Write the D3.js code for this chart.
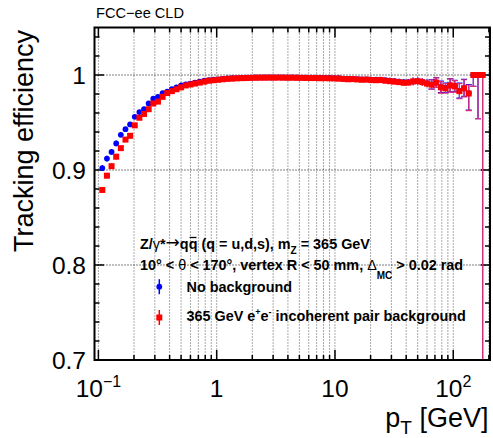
<!DOCTYPE html>
<html><head><meta charset="utf-8">
<script src="https://cdn.jsdelivr.net/npm/d3@7"></script>
<style>
body{margin:0;background:#fff}
svg{display:block}
text{font-family:"Liberation Sans",Arial,Helvetica,sans-serif;fill:#000}
</style>
</head><body><svg id="c" width="493" height="438"></svg>
<script>
// ---------------- data ----------------
const pT = [
0.1079,0.1181,0.1292,0.1414,0.1548,0.1694,0.1854,0.2030,0.2221,0.2431,
0.2661,0.2912,0.3188,0.3489,0.3819,0.4179,0.4575,0.5007,0.5480,0.5998,
0.6565,0.7186,0.7865,0.8608,0.9419,1.031,1.128,1.235,1.352,1.479,
1.619,1.772,1.940,2.123,2.324,2.543,2.783,3.046,3.334,3.649,
3.994,4.372,4.784,5.236,5.731,6.272,6.865,7.513,8.222,9.000,
9.849,10.78,11.80,12.91,14.13,15.47,16.93,18.53,20.28,22.20,
24.29,26.59,29.10,31.85,34.86,38.15,41.76,45.71,50.02,54.75,
59.92,65.58,71.78,78.56,85.99,94.10,103.0,112.7,123.4,135.1,
147.8,161.8,177.1];

const effNoBkg = [
0.902,0.912,0.919,0.928,0.937,0.943,0.948,0.956,0.961,0.964,
0.970,0.975,0.977,0.981,0.9825,0.985,0.987,0.989,0.990,0.991,
0.992,0.993,0.994,0.9945,0.995,0.9955,0.996,0.9963,0.9966,0.9968,
0.9970,0.9971,0.9973,0.9974,0.9974,0.9975,0.9975,0.9975,0.9976,0.9975,
0.9975,0.9974,0.9974,0.9973,0.9973,0.9972,0.9971,0.9970,0.9970,0.9969,
0.9968,0.9966,0.9962,0.9960,0.9960,0.9957,0.9955,0.9955,0.9951,0.9950,
0.9950,0.9945,0.9940,0.9935,0.9930,0.9924,0.9925,0.9933,0.9936,0.9928,
0.9914,0.9902,0.9921,0.9875,0.9866,0.9892,0.9884,0.9836,0.9864,0.9810,
1.0,1.0,1.0];

const errNoBkgLow = [
0.003,0.003,0.003,0.003,0.002,0.002,0.002,0.002,0.002,0.002,
0.002,0.002,0.002,0.001,0.001,0.001,0.001,0.001,0.001,0.001,
0.001,0.001,0.001,0.001,0.001,0.001,0.001,0.001,0.001,0.001,
0.001,0.001,0.001,0.001,0.001,0.001,0.001,0.001,0.001,0.001,
0.001,0.001,0.001,0.001,0.001,0.001,0.001,0.001,0.001,0.001,
0.001,0.001,0.001,0.001,0.002,0.002,0.002,0.002,0.002,0.002,
0.002,0.002,0.003,0.003,0.003,0.003,0.003,0.004,0.004,0.004,
0.004,0.005,0.005,0.006,0.005,0.007,0.006,0.008,0.009,0.018,
0.012,0.046,0.30];
const errNoBkgHigh = [
0.003,0.003,0.003,0.003,0.002,0.002,0.002,0.002,0.002,0.002,
0.002,0.002,0.002,0.001,0.001,0.001,0.001,0.001,0.001,0.001,
0.001,0.001,0.001,0.001,0.001,0.001,0.001,0.001,0.001,0.001,
0.001,0.001,0.001,0.001,0.001,0.001,0.001,0.001,0.001,0.001,
0.001,0.001,0.001,0.001,0.001,0.001,0.001,0.001,0.001,0.001,
0.001,0.001,0.001,0.001,0.002,0.002,0.002,0.002,0.002,0.002,
0.002,0.002,0.003,0.003,0.003,0.003,0.003,0.004,0.004,0.004,
0.004,0.005,0.005,0.006,0.005,0.007,0.006,0.008,0.009,0.009,
0,0,0];

const effBkg = [
0.879,0.894,0.904,0.914,0.923,0.932,0.936,0.947,0.955,0.959,
0.964,0.970,0.972,0.977,0.981,0.983,0.985,0.987,0.989,0.990,
0.991,0.992,0.993,0.994,0.9945,0.995,0.9955,0.996,0.9962,0.9965,
0.9967,0.9968,0.9970,0.9971,0.9972,0.9972,0.9973,0.9972,0.9973,0.9972,
0.9971,0.9972,0.9970,0.9970,0.9969,0.9968,0.9968,0.9966,0.9967,0.9965,
0.9964,0.9962,0.9958,0.9955,0.9957,0.9953,0.9950,0.9952,0.9947,0.9945,
0.9948,0.9940,0.9935,0.9930,0.9925,0.9918,0.9920,0.9932,0.9935,0.9925,
0.9910,0.9898,0.9920,0.9870,0.9860,0.9890,0.9880,0.9830,0.9860,0.9805,
1.0,1.0,1.0];

const errBkgLow = [
0.003,0.003,0.003,0.003,0.002,0.002,0.002,0.002,0.002,0.002,
0.002,0.002,0.002,0.001,0.001,0.001,0.001,0.001,0.001,0.001,
0.001,0.001,0.001,0.001,0.001,0.001,0.001,0.001,0.001,0.001,
0.001,0.001,0.001,0.001,0.001,0.001,0.001,0.001,0.001,0.001,
0.001,0.001,0.001,0.001,0.001,0.001,0.001,0.001,0.001,0.001,
0.001,0.001,0.001,0.001,0.002,0.002,0.002,0.002,0.002,0.002,
0.002,0.002,0.003,0.003,0.003,0.003,0.003,0.004,0.004,0.004,
0.004,0.005,0.005,0.006,0.005,0.007,0.006,0.008,0.009,0.018,
0.012,0.046,0.30];
const errBkgHigh = [
0.003,0.003,0.003,0.003,0.002,0.002,0.002,0.002,0.002,0.002,
0.002,0.002,0.002,0.001,0.001,0.001,0.001,0.001,0.001,0.001,
0.001,0.001,0.001,0.001,0.001,0.001,0.001,0.001,0.001,0.001,
0.001,0.001,0.001,0.001,0.001,0.001,0.001,0.001,0.001,0.001,
0.001,0.001,0.001,0.001,0.001,0.001,0.001,0.001,0.001,0.001,
0.001,0.001,0.001,0.001,0.002,0.002,0.002,0.002,0.002,0.002,
0.002,0.002,0.003,0.003,0.003,0.003,0.003,0.004,0.004,0.004,
0.004,0.005,0.005,0.006,0.005,0.007,0.006,0.008,0.009,0.009,
0,0,0];

const xMajorTicks = [0.1, 1, 10, 100];
const xTickLabels = [["10","\u22121"],["1",""],["10",""],["10","2"]];
const yMajorTicks = [0.7, 0.8, 0.9, 1.0];
const yTickLabels = ["0.7","0.8","0.9","1"];
const yMinorStep = 0.02;
const seriesNames = ["No background", "365 GeV e+e- incoherent pair background"];

// ---------------- layout ----------------
const svg = d3.select("#c");
const L = 94.5, R = 490, T = 27.5, B = 360;
const x = d3.scaleLog().domain([0.0927, 204.4]).range([L, R]);
const y = d3.scaleLinear().domain([0.7, 1.05]).range([B, T]);

svg.append("defs").append("clipPath").attr("id","clip")
  .append("rect").attr("x",L).attr("y",T).attr("width",R-L).attr("height",B-T);

// minor x ticks
const xMinor = [];
for (let d=-2; d<=2; d++) for (let k=2;k<=9;k++){ const v=k*Math.pow(10,d); if (v>x.domain()[0] && v<x.domain()[1]) xMinor.push(v); }
const xAll = xMajorTicks.concat(xMinor);

// grid
const grid = svg.append("g");
grid.selectAll("line.gx").data(xAll).join("line")
  .attr("x1",d=>x(d)).attr("x2",d=>x(d)).attr("y1",T).attr("y2",B)
  .attr("stroke","#555").attr("stroke-width",1).attr("stroke-dasharray","1,2");
grid.selectAll("line.gy").data(yMajorTicks.filter(v=>v>0.7)).join("line")
  .attr("x1",L).attr("x2",R).attr("y1",d=>y(d)).attr("y2",d=>y(d))
  .attr("stroke","#000").attr("stroke-width",1).attr("stroke-dasharray","1,2");

// ticks
const tk = svg.append("g").attr("stroke","#000").attr("stroke-width",1.5);
const yMinor = d3.range(0.72, 1.05, yMinorStep).filter(v=>!yMajorTicks.some(m=>Math.abs(m-v)<1e-6));
yMajorTicks.forEach(v=>{
  tk.append("line").attr("x1",L).attr("x2",L+9.5).attr("y1",y(v)).attr("y2",y(v));
  tk.append("line").attr("x1",R).attr("x2",R-9.5).attr("y1",y(v)).attr("y2",y(v));
});
yMinor.forEach(v=>{
  tk.append("line").attr("x1",L).attr("x2",L+5).attr("y1",y(v)).attr("y2",y(v));
  tk.append("line").attr("x1",R).attr("x2",R-5).attr("y1",y(v)).attr("y2",y(v));
});
xMajorTicks.forEach(v=>{
  tk.append("line").attr("x1",x(v)).attr("x2",x(v)).attr("y1",B).attr("y2",B-10);
  tk.append("line").attr("x1",x(v)).attr("x2",x(v)).attr("y1",T).attr("y2",T+10);
});
xMinor.forEach(v=>{
  tk.append("line").attr("x1",x(v)).attr("x2",x(v)).attr("y1",B).attr("y2",B-5);
  tk.append("line").attr("x1",x(v)).attr("x2",x(v)).attr("y1",T).attr("y2",T+5);
});

// data
const plot = svg.append("g").attr("clip-path","url(#clip)");
function series(vals, lo, hi, errColor, fill, shape){
  const g = plot.append("g");
  const idx = d3.range(pT.length);
  g.selectAll("line.e").data(idx).join("line")
    .attr("x1",i=>x(pT[i])).attr("x2",i=>x(pT[i]))
    .attr("y1",i=>y(vals[i]-lo[i])).attr("y2",i=>y(vals[i]+hi[i]))
    .attr("stroke",errColor).attr("stroke-width",1.2);
  g.selectAll("line.c1").data(idx.filter(i=>lo[i]>0.004)).join("line")
    .attr("x1",i=>x(pT[i])-3).attr("x2",i=>x(pT[i])+3)
    .attr("y1",i=>y(vals[i]-lo[i])).attr("y2",i=>y(vals[i]-lo[i]))
    .attr("stroke",errColor).attr("stroke-width",1.2);
  g.selectAll("line.c2").data(idx.filter(i=>hi[i]>0.004)).join("line")
    .attr("x1",i=>x(pT[i])-3).attr("x2",i=>x(pT[i])+3)
    .attr("y1",i=>y(vals[i]+hi[i])).attr("y2",i=>y(vals[i]+hi[i]))
    .attr("stroke",errColor).attr("stroke-width",1.2);
  if (shape==="circle"){
    g.selectAll("circle").data(idx).join("circle")
      .attr("cx",i=>x(pT[i])).attr("cy",i=>y(vals[i])).attr("r",2.9).attr("fill",fill);
  } else {
    g.selectAll("rect").data(idx).join("rect")
      .attr("x",i=>x(pT[i])-3).attr("y",i=>y(vals[i])-3).attr("width",6).attr("height",6).attr("fill",fill);
  }
}
series(effNoBkg, errNoBkgLow, errNoBkgHigh, "#0000ff", "#0000ff", "circle");
series(effBkg, errBkgLow, errBkgHigh, "#d8307a", "#ff0000", "square");

// frame
svg.append("rect").attr("x",L).attr("y",T).attr("width",R-L).attr("height",B-T)
  .attr("fill","none").attr("stroke","#000").attr("stroke-width",2);

// tick labels
yMajorTicks.forEach((v,i)=>{
  svg.append("text").attr("x",86).attr("y",y(v)).attr("dy","0.36em")
    .attr("text-anchor","end").attr("font-size",24.5).text(yTickLabels[i]);
});
xMajorTicks.forEach((v,i)=>{
  const t = svg.append("text").attr("x",x(v)).attr("y",397).attr("text-anchor","middle").attr("font-size",24.5);
  t.append("tspan").text(xTickLabels[i][0]);
  if (xTickLabels[i][1]) t.append("tspan").attr("dy",-10).attr("font-size",16).text(xTickLabels[i][1]);
});

// axis titles
svg.append("text").attr("transform","translate(33,30) rotate(-90)")
  .attr("text-anchor","end").attr("font-size",27).text("Tracking efficiency");
const xt = svg.append("text").attr("x",488.5).attr("y",427).attr("text-anchor","end").attr("font-size",27);
xt.append("tspan").text("p");
xt.append("tspan").attr("dy",7).attr("font-size",19).text("T");
xt.append("tspan").attr("dy",-7).text(" [GeV]");

// top label
svg.append("text").attr("x",96).attr("y",18).attr("font-size",14.6).text("FCC\u2212ee CLD");

// physics text
const FS = 14.4;
const t1 = svg.append("text").attr("x",140).attr("y",249).attr("font-size",FS).attr("font-weight","bold");
t1.append("tspan").text("Z/");
t1.append("tspan").attr("font-weight","normal").text("\u03b3");
t1.append("tspan").text("*");
t1.append("tspan").attr("font-weight","normal").attr("font-family","DejaVu Sans").attr("font-size",17).attr("dy",-1).text("\u2192");
t1.append("tspan").attr("dy",1).text("q");
t1.append("tspan").text("q");
t1.append("tspan").text(" (q = u,d,s), m");
t1.append("tspan").attr("dy",5).attr("font-size",10).text("Z");
t1.append("tspan").attr("dy",-5).text(" = 365 GeV");
// anti-quark bar over the second q (char index 6)
try {
  const ext = t1.node().getExtentOfChar(6);
  svg.append("line").attr("x1",ext.x+1).attr("x2",ext.x+ext.width-1)
    .attr("y1",249-11.5).attr("y2",249-11.5).attr("stroke","#000").attr("stroke-width",1.3);
} catch(e) {}

const t2 = svg.append("text").attr("x",140).attr("y",270).attr("font-size",FS).attr("font-weight","bold");
t2.append("tspan").text("10\u00b0 < ");
t2.append("tspan").attr("font-weight","normal").text("\u03b8");
t2.append("tspan").text(" < 170\u00b0, vertex R < 50 mm, ");
t2.append("tspan").attr("font-weight","normal").text("\u0394");
t2.append("tspan").attr("dy",9).attr("font-size",10).text("MC");
t2.append("tspan").attr("dy",-9).text(" > 0.02 rad");

// legend
const lg = svg.append("g");
const legY = [286.7, 317.5];
lg.append("line").attr("x1",159.3).attr("x2",159.3).attr("y1",legY[0]-7.5).attr("y2",legY[0]+7.5).attr("stroke","#0000ff").attr("stroke-width",1.5);
lg.append("circle").attr("cx",159.3).attr("cy",legY[0]).attr("r",2.9).attr("fill","#0000ff");
lg.append("line").attr("x1",159.3).attr("x2",159.3).attr("y1",legY[1]-7.5).attr("y2",legY[1]+7.5).attr("stroke","#ff0000").attr("stroke-width",1.5);
lg.append("rect").attr("x",156.3).attr("y",legY[1]-3).attr("width",6).attr("height",6).attr("fill","#ff0000");
lg.append("text").attr("x",186.5).attr("y",292).attr("font-size",FS).attr("font-weight","bold").text(seriesNames[0]);
const lt = lg.append("text").attr("x",186.5).attr("y",321).attr("font-size",FS).attr("font-weight","bold");
lt.append("tspan").text("365 GeV e");
lt.append("tspan").attr("dy",-6).attr("font-size",9).text("+");
lt.append("tspan").attr("dy",6).text("e");
lt.append("tspan").attr("dy",-6).attr("font-size",9).text("-");
lt.append("tspan").attr("dy",6).text(" incoherent pair background");
</script>
</body></html>
